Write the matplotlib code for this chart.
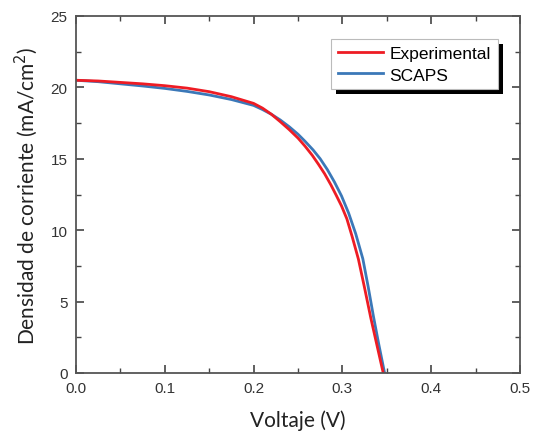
import numpy as np
import matplotlib.pyplot as plt
from matplotlib.patches import Rectangle
from matplotlib.ticker import MultipleLocator

plt.rcParams['font.family'] = ['Liberation Sans', 'DejaVu Sans']

# curva J-V medida
v_exp = [0.000, 0.025, 0.050, 0.075, 0.100, 0.125, 0.150, 0.175, 0.200, 0.210,
         0.220, 0.230, 0.240, 0.250, 0.258, 0.266, 0.273, 0.280, 0.287, 0.293,
         0.299, 0.305, 0.311, 0.318, 0.325, 0.332, 0.339, 0.346]
j_exp = [20.50, 20.45, 20.35, 20.25, 20.12, 19.95, 19.70, 19.35, 18.88, 18.55,
         18.12, 17.60, 17.05, 16.45, 15.88, 15.25, 14.62, 13.95, 13.18, 12.45,
         11.70, 10.80, 9.55, 7.98, 5.95, 3.85, 1.92, 0.00]

# curva J-V simulada (SCAPS)
v_sim = [0.000, 0.025, 0.050, 0.075, 0.100, 0.125, 0.150, 0.175, 0.200, 0.210,
         0.220, 0.230, 0.240, 0.250, 0.258, 0.267, 0.275, 0.283, 0.291, 0.299,
         0.307, 0.315, 0.323, 0.329, 0.335, 0.341, 0.3475]
j_sim = [20.50, 20.40, 20.25, 20.10, 19.93, 19.72, 19.47, 19.15, 18.74, 18.45,
         18.12, 17.72, 17.25, 16.72, 16.22, 15.62, 15.00, 14.25, 13.38, 12.40,
         11.20, 9.75, 8.00, 6.05, 3.95, 2.00, 0.00]

fig = plt.figure(figsize=(5.36, 4.35), dpi=100)
ax = fig.add_axes([76 / 536, 1 - 374 / 435, 444 / 536, 357 / 435])

l_sim, = ax.plot(v_sim, j_sim, color='#3b78b8', lw=2.0, label='SCAPS',
                 solid_joinstyle='round')
l_exp, = ax.plot(v_exp, j_exp, color='#ee1c24', lw=2.0, label='Experimental',
                 solid_joinstyle='round')

ax.set_xlim(0, 0.5)
ax.set_ylim(0, 25)
ax.xaxis.set_major_locator(MultipleLocator(0.1))
ax.xaxis.set_minor_locator(MultipleLocator(0.05))
ax.yaxis.set_major_locator(MultipleLocator(5))
ax.yaxis.set_minor_locator(MultipleLocator(2.5))
ax.tick_params(which='both', direction='in', top=True, right=True,
               color='#444444', labelcolor='#333333')
ax.tick_params(which='major', length=6, width=1.2, labelsize=11, pad=6)
ax.tick_params(which='minor', length=3.5, width=1.0)
for s in ax.spines.values():
    s.set_color('#555555')
    s.set_linewidth(1.3)

ax.set_xlabel('Voltaje (V)', family='Lato', fontsize=15, color='#222222', labelpad=10)
ax.set_ylabel('Densidad de corriente (mA/cm$^2$)', family='Lato', fontsize=15,
              color='#222222', labelpad=8)

leg = ax.legend(handles=[l_exp, l_sim], loc='upper right',
                bbox_to_anchor=(0.95, 0.935), fancybox=False, framealpha=1,
                edgecolor='#bbbbbb', prop={'size': 12.5},
                handlelength=2.6, handletextpad=0.35, borderpad=0.4,
                labelspacing=0.35, borderaxespad=0)
leg.get_frame().set_linewidth(0.8)

# sombra negra desplazada detrás de la leyenda
fig.canvas.draw()
bb = leg.get_window_extent()
ax.add_artist(Rectangle((bb.x0 + 5, bb.y0 - 5), bb.width, bb.height,
                        transform=None, facecolor='black', edgecolor='none',
                        zorder=4.9, clip_on=False))

fig.savefig('out.png', dpi=100)
